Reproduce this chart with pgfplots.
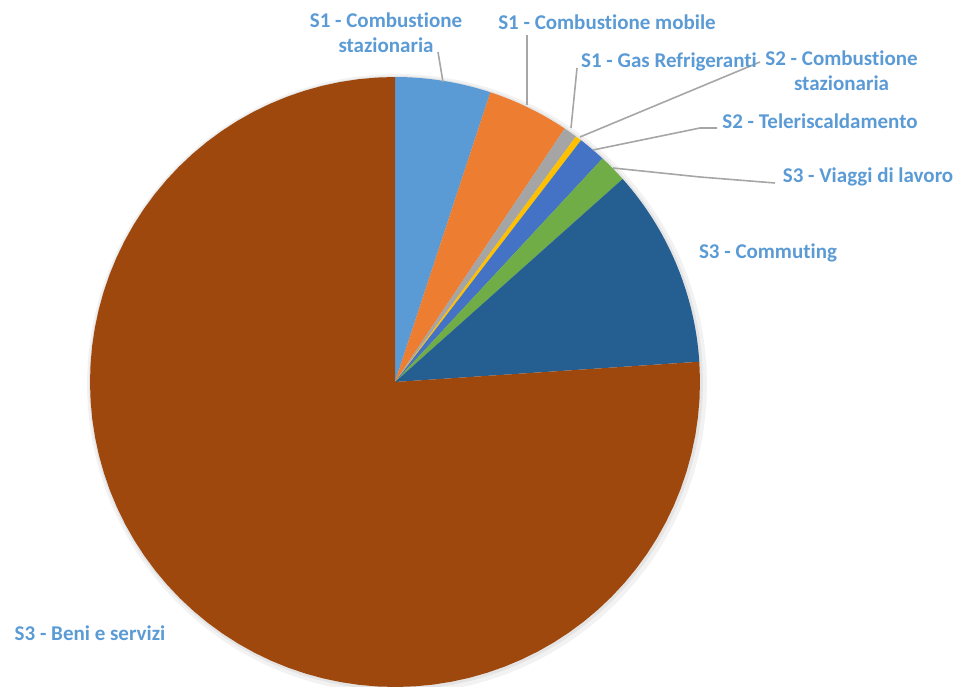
\documentclass[border=0pt]{standalone}
\usepackage{pgfplots}
\pgfplotsset{compat=1.18}
\usepackage{fontspec}
\setmainfont{Carlito}[Ligatures=NoCommon]
\definecolor{cA}{HTML}{5B9BD5}
\definecolor{cB}{HTML}{ED7D31}
\definecolor{cC}{HTML}{A5A5A5}
\definecolor{cD}{HTML}{FFC000}
\definecolor{cE}{HTML}{4472C4}
\definecolor{cF}{HTML}{70AD47}
\definecolor{cG}{HTML}{255E91}
\definecolor{cH}{HTML}{9E480E}
\definecolor{lbl}{HTML}{5B9BD5}
\definecolor{lead}{HTML}{A6A6A6}
% values (percent)
\def\vA{5.06}\def\vB{4.33}\def\vC{0.72}\def\vD{0.33}
\def\vE{1.47}\def\vF{1.50}\def\vG{10.53}\def\vH{76.06}
\def\cx{395}\def\cy{304}\def\pieR{305}
\pgfmathsetmacro\aA{90}
\pgfmathsetmacro\aB{\aA-3.6*\vA}
\pgfmathsetmacro\aC{\aB-3.6*\vB}
\pgfmathsetmacro\aD{\aC-3.6*\vC}
\pgfmathsetmacro\aE{\aD-3.6*\vD}
\pgfmathsetmacro\aF{\aE-3.6*\vE}
\pgfmathsetmacro\aG{\aF-3.6*\vF}
\pgfmathsetmacro\aH{\aG-3.6*\vG}
\pgfmathsetmacro\aI{\aH-3.6*\vH}
\newcommand\slice[3]{\addplot[draw=none, fill=#1, domain=#3:#2, samples=80] ({\cx+\pieR*cos(x)},{\cy+\pieR*sin(x)}) -- (axis cs:\cx,\cy) -- cycle;}
\begin{document}
\begin{tikzpicture}[lab/.style={font=\fontsize{21}{25}\selectfont\bfseries, text=lbl, align=center, inner sep=0pt}]
\begin{axis}[width=964pt, height=686pt, scale only axis, xmin=0, xmax=964, ymin=0, ymax=686, hide axis, clip=true]
% soft shadow
\addplot[draw=none, fill=black, opacity=0.05, domain=0:360, samples=120] ({\cx+2+(\pieR+5)*cos(x)},{\cy-2+(\pieR+5)*sin(x)}) -- cycle;
\addplot[draw=none, fill=black, opacity=0.06, domain=0:360, samples=120] ({\cx+1+(\pieR+2)*cos(x)},{\cy-1+(\pieR+2)*sin(x)}) -- cycle;
\slice{cA}{\aA}{\aB}
\slice{cB}{\aB}{\aC}
\slice{cC}{\aC}{\aD}
\slice{cD}{\aD}{\aE}
\slice{cE}{\aE}{\aF}
\slice{cF}{\aF}{\aG}
\slice{cG}{\aG}{\aH}
\slice{cH}{\aH}{\aI}
% leader lines
\addplot[lead, line width=1.6pt, no marks] coordinates {(438,634) (443,604)};
\addplot[lead, line width=1.6pt, no marks] coordinates {(527,651) (527,581)};
\addplot[lead, line width=1.6pt, no marks] coordinates {(577,618) (571,558)};
\addplot[lead, line width=1.6pt, no marks] coordinates {(760,624) (580,549)};
\addplot[lead, line width=1.6pt, no marks] coordinates {(717,558) (700,558) (593,536)};
\addplot[lead, line width=1.6pt, no marks] coordinates {(775,503) (700,509) (613,518)};
% labels
\node[lab] at (axis cs:386,653.5) {S1 - Combustione\\stazionaria};
\node[lab] at (axis cs:607,664) {S1 - Combustione mobile};
\node[lab] at (axis cs:669,624) {S1 - Gas Refrigeranti};
\node[lab] at (axis cs:841.5,615.5) {S2 - Combustione\\stazionaria};
\node[lab] at (axis cs:820,565) {S2 - Teleriscaldamento};
\node[lab] at (axis cs:868,509) {S3 - Viaggi di lavoro};
\node[lab] at (axis cs:768,433) {S3 - Commuting};
\node[lab] at (axis cs:90,53) {S3 - Beni e servizi};
\end{axis}
\pgfresetboundingbox
\path[use as bounding box] (current axis.south west) rectangle (current axis.north east);
\end{tikzpicture}
\end{document}
